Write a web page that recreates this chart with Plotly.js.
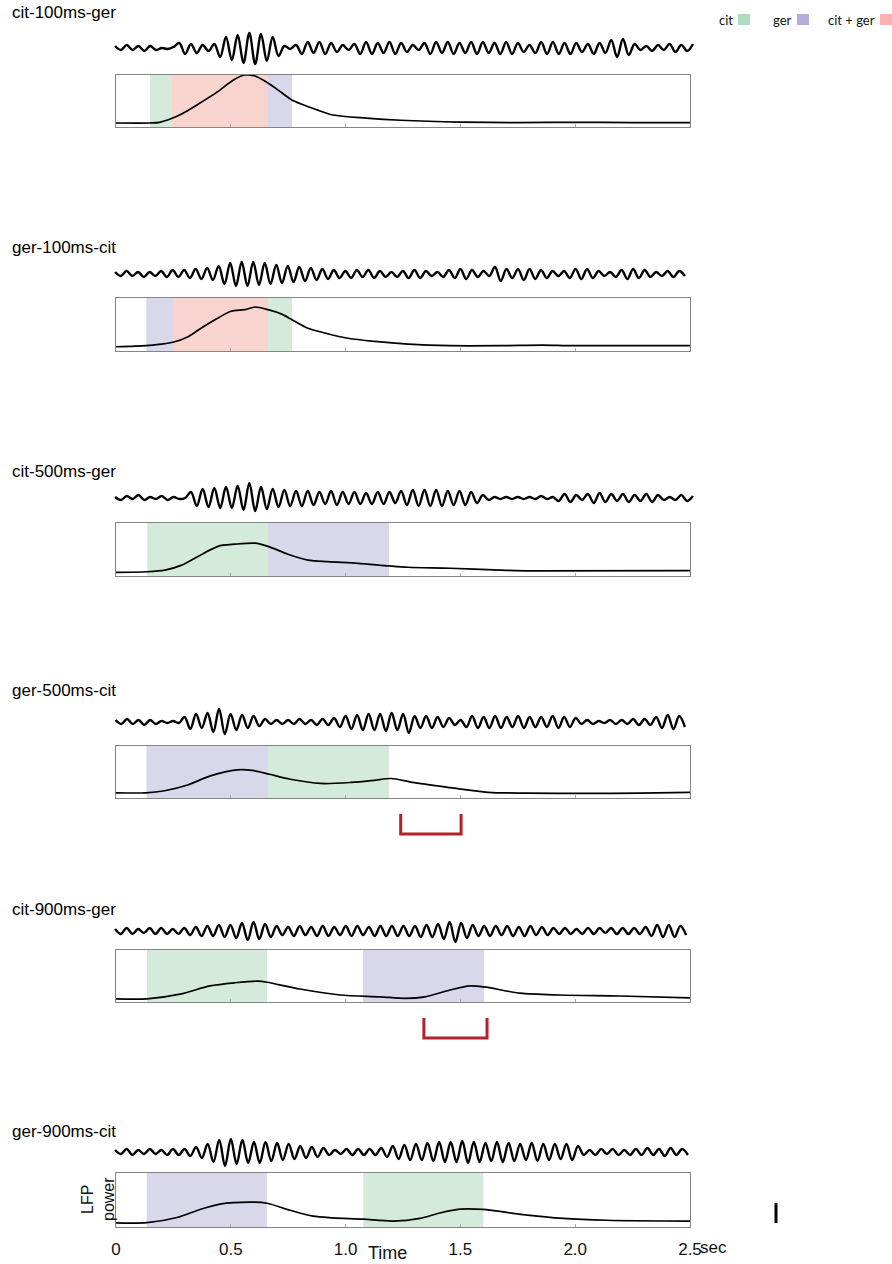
<!DOCTYPE html>
<html><head><meta charset="utf-8">
<script src="https://cdn.plot.ly/plotly-3.0.1.min.js"></script>
<style>html,body{margin:0;padding:0;background:#fff}</style>
</head><body><div id="chart" style="width:892px;height:1264px"></div>
<script>
// ---------------- DATA ----------------
const panelTitles = ['cit-100ms-ger','ger-100ms-cit','cit-500ms-ger','ger-500ms-cit','cit-900ms-ger','ger-900ms-cit'];
// stimulus intervals (sec)
const citOn  = [0.148, 0.248, 0.136, 0.662, 0.135, 1.077];
const citOff = [0.662, 0.767, 0.662, 1.190, 0.658, 1.600];
const gerOn  = [0.244, 0.132, 0.662, 0.133, 1.076, 0.134];
const gerOff = [0.767, 0.662, 1.189, 0.662, 1.603, 0.657];
// LFP power curves (fraction of box height)
const powT1 = [0,0.148,0.19,0.244,0.31,0.366,0.44,0.51,0.56,0.605,0.66,0.725,0.766,0.875,0.945,1.09,1.24,1.5,1.75,2.0,2.25,2.5];
const powV1 = [0.077,0.077,0.09,0.167,0.31,0.46,0.67,0.90,1.0,0.98,0.85,0.65,0.52,0.33,0.23,0.17,0.13,0.095,0.085,0.09,0.085,0.085];
const powT2 = [0,0.131,0.196,0.248,0.314,0.370,0.431,0.501,0.562,0.605,0.662,0.719,0.767,0.836,0.910,1.010,1.128,1.272,1.455,1.672,1.860,1.990,2.5];
const powV2 = [0.08,0.10,0.13,0.165,0.27,0.43,0.59,0.75,0.78,0.83,0.78,0.70,0.59,0.43,0.34,0.24,0.18,0.13,0.10,0.10,0.112,0.10,0.10];
const powT3 = [0,0.135,0.213,0.283,0.357,0.444,0.518,0.605,0.662,0.749,0.836,0.923,1.054,1.189,1.272,1.455,1.672,1.816,2.5];
const powV3 = [0.07,0.08,0.11,0.20,0.37,0.56,0.60,0.62,0.56,0.41,0.30,0.27,0.24,0.19,0.165,0.146,0.11,0.095,0.10];
const powT4 = [0,0.129,0.212,0.312,0.411,0.527,0.594,0.668,0.759,0.892,1.025,1.124,1.199,1.290,1.456,1.621,1.787,2.036,2.284,2.5];
const powV4 = [0.10,0.10,0.14,0.25,0.425,0.54,0.53,0.456,0.36,0.28,0.30,0.34,0.375,0.30,0.20,0.11,0.094,0.088,0.094,0.11];
const powT5 = [0,0.135,0.279,0.409,0.518,0.618,0.658,0.801,0.976,1.150,1.259,1.346,1.455,1.542,1.603,1.760,1.934,2.195,2.5];
const powV5 = [0.06,0.06,0.15,0.31,0.37,0.40,0.38,0.25,0.135,0.10,0.07,0.10,0.23,0.31,0.29,0.17,0.135,0.115,0.08];
const powT6 = [0,0.135,0.266,0.366,0.453,0.597,0.658,0.758,0.858,0.945,1.076,1.206,1.324,1.411,1.498,1.598,1.773,1.947,2.138,2.5];
const powV6 = [0.075,0.08,0.175,0.325,0.425,0.46,0.44,0.31,0.20,0.17,0.145,0.11,0.16,0.26,0.33,0.325,0.23,0.16,0.125,0.107];
// raw LFP traces: successive extrema (peak/trough)
const wave1 = [2,-2,3,-2,2,-3,2,-2, 0,-1,1, 5,-6,4,-5, 3,-3,4,
 -9,11,-12,13,-15,15,-16,14,-13,11,-8, 2,-1,3,
 -6,6,-5,6,-6,5,-4,3,-2,4,-6,6,-6,5,-5,6,-6,5,-4,3,-2,5,-6,6,-5,6,-6,5,-5,
 6,-6,6,-5,5,-6,6,-6,5,-4,3,-5,6,-6,6,-6,5,-6,5,-4,4,-6,5,-5,8,-9,9,-7,4,-2,2,-3,3,-2,4,-4,3,-3,4];
const wave2 = [2,-2,3,-2,2,-3,2,-2, 3,-3,4,-3,4,-4,5,-5,6,-6,
 8,-10,11,-12,12,-12,12,-11,11,-10,9,-9, 8,-8,7,-7,6,-6,5,-5,4,-4,
 3,-4,4,-3,4,-4,3,-3,2,-3, 3,-4,4,-4,3,-2,2,-3,4,-4, 5,-5,4,-3,3,-2,7,-7,5,-4,
 5,-6,5,-5,4,-4,3,-2,3,-4, 5,-5,5,-4,3,-2,2,-3,4,-5, 5,-4,4,-3,2,-2,3,-3,3,-2];
const wave3 = [1,-2,2,-1,3,-2,1,-1,2,-2,1,-1,0, 6,-8,9,-9,10,-10,11,-10,
 12,-12,15,-13,11,-11,9,-9, 8,-8,7,-8,7,-7,6,-6,7,-7,6,-6, 6,-6,5,-6,6,-6,6,-5,7,-7,
 8,-8,8,-8,8,-8,7,-7,7,-7,6,-5,3,-2, 1,-1,1,-1,1,-1,1,-1,2,-1,1,
 -3,4,-4,3,-2,4,-5,5,-4,4,-3,4,-4,3,-3,4,-4,3,-2,1,-2,3,-3,2];
const wave4 = [2,-2,3,-2,2,-3,2,-2,1, -1,1,-1, 5,-7,8,-6,9,-10,13,-12,8,-8, 7,-6,6,-4,3,-2,
 2,-2,2,-2,3,-2,2,-3,3,-3,4, -5,6,-7,7,-8,8,-8,8,-9,9,-8,8,-11,6,-6,6, -6,5,-5,4,-3,2,
 -5,6,-6,5,-6,6,-6,5,-5,6,-6,5,-5,5,-5,6,-6,5,-5,4, -2,2,-2,1,-1,2,-2,2,-2, 3,-3,3,-3,5,-6,7,-7,6,-5];
const wave5 = [2,-3,3,-3,2,-2,3,-3,3,-3,2,-3,3,-4,4, -5,5,-5,6,-6,6,-7,8,-9,9,-8,7,-6,5,
 -4,4,-5,5,-4,4,-5,5,-5,4,-4,5,-5,5,-4,4,-5,5,-5,5,-5,5,-5,5,-6,6,-6,
 7,-8,9,-11,8,-7,6,-5, 5,-5,5,-4,5,-5,4,-5,5,-4,4,-4,3,-3,
 3,-3,2,-3,3,-3,3,-2,3,-3,3,-3,3,-3, 4,-5,6,-6,6,-6,5,-4];
const wave6 = [2,-2,3,-3,2,-2,3,-2,2,-3,3,-3,3,-4,5,
 -6,8,-10,12,-14,13,-12,12,-11,10,-11,10,-9,9,-8,8,-7,6,
 -6,5,-5,4,-3,2,-2,3,-3,3,-3,3,-3,4, -5,6,-7,7,-8,8,-8,9,-9,
 10,-10,10,-10,11,-11,10,-10,9,-9,10,-10,9,-9,8,-8,9,-9, 8,-8,8,-7,8,-8,6,-3,
 2,-3,3,-2,3,-3,2,-3,3,-3,4,-3,3,-4,4,-3,3,-3];
const waveStart = [-0.004,-0.004,-0.004,-0.002,-0.004,-0.004];
const waveEnd   = [2.513, 2.478, 2.513, 2.478, 2.483, 2.491];
const tickVals = [0,0.5,1,1.5,2,2.5];
const tickText = ['0','0.5','1.0','1.5','2.0','2.5'];
const legendLabels = ['cit','ger','cit + ger'];
const bracketPanel = [3,4];
const bracketStart = [1.240,1.341];
const bracketEnd   = [1.503,1.616];

// ---------------- LAYOUT / STYLE ----------------
const W=892, H=1264;
const PX=(H0)=>1-H0/H;
const boxL=116, boxR=690, unit=(boxR-boxL)/2.5;
const boxTop=[75,298,523,746,950,1173], boxBot=[127,351,576,798,1002,1227];
const waveC=[48,274,498,722,931,1152], waveHalf=22;
const titleY=[12,248,471,690,910,1131];
const COL={cit:'#d4eadb', ger:'#d9d8ea', both:'#f9d4cf'};
const LEG=['#acdcbc','#b3aedb','#fcb1b1'];
const FONT='Liberation Sans, Arial, sans-serif';
const powT=[powT1,powT2,powT3,powT4,powT5,powT6];
const powV=[powV1,powV2,powV3,powV4,powV5,powV6];
const waves=[wave1,wave2,wave3,wave4,wave5,wave6];

const traces=[], layout={width:W,height:H,margin:{l:0,r:0,t:0,b:0},paper_bgcolor:'#fff',plot_bgcolor:'rgba(0,0,0,0)',showlegend:false,shapes:[],annotations:[]};
const wr=[-0.05,2.55];
for(let k=0;k<6;k++){
  const n=k+1, ax=n===1?'':n, wn=k+7;
  traces.push({x:powT[k],y:powV[k],xaxis:'x'+ax,yaxis:'y'+ax,mode:'lines',line:{color:'#000',width:1.7,shape:'spline',smoothing:0.8},hoverinfo:'skip'});
  const w=waves[k], m=w.length;
  const xs=w.map((_,i)=>waveStart[k]+i*(waveEnd[k]-waveStart[k])/(m-1));
  traces.push({x:xs,y:w,xaxis:'x'+wn,yaxis:'y'+wn,mode:'lines',line:{color:'#000',width:2.4,shape:'spline',smoothing:1},hoverinfo:'skip'});
  layout['xaxis'+ax]={domain:[boxL/W,boxR/W],range:[0,2.5],anchor:'y'+ax,showline:true,mirror:true,linecolor:'#858585',linewidth:1.3,
    showgrid:false,zeroline:false,ticks:'inside',ticklen:3,tickcolor:'#aaa',tickvals:tickVals,ticktext:tickText,
    showticklabels:k===5,tickfont:{family:FONT,size:17,color:'#111'},ticklabelstandoff:6,fixedrange:true};
  layout['yaxis'+ax]={domain:[PX(boxBot[k]),PX(boxTop[k])],range:[0,1],anchor:'x'+ax,showline:true,mirror:true,linecolor:'#858585',linewidth:1.3,
    showgrid:false,zeroline:false,showticklabels:false,ticks:'',fixedrange:true};
  layout['xaxis'+wn]={domain:[(boxL+wr[0]*unit)/W,(boxL+wr[1]*unit)/W],range:wr,anchor:'y'+wn,visible:false,fixedrange:true};
  layout['yaxis'+wn]={domain:[PX(waveC[k]+waveHalf),PX(waveC[k]-waveHalf)],range:[-waveHalf,waveHalf],anchor:'x'+wn,visible:false,fixedrange:true};
  // stimulus shading
  const yr='y'+ax+' domain';
  layout.shapes.push({type:'rect',xref:'x'+ax,yref:yr,x0:citOn[k],x1:citOff[k],y0:0,y1:1,fillcolor:COL.cit,line:{width:0},layer:'below'});
  layout.shapes.push({type:'rect',xref:'x'+ax,yref:yr,x0:gerOn[k],x1:gerOff[k],y0:0,y1:1,fillcolor:COL.ger,line:{width:0},layer:'below'});
  const o0=Math.max(citOn[k],gerOn[k]), o1=Math.min(citOff[k],gerOff[k]);
  if(o1>o0) layout.shapes.push({type:'rect',xref:'x'+ax,yref:yr,x0:o0,x1:o1,y0:0,y1:1,fillcolor:COL.both,line:{width:0},layer:'below'});
  layout.annotations.push({text:panelTitles[k],xref:'paper',yref:'paper',x:10/W,y:PX(titleY[k]),xanchor:'left',yanchor:'middle',showarrow:false,font:{family:FONT,size:17,color:'#000'}});
}
// brackets
bracketPanel.forEach((p,i)=>{
  const ax='x'+(p+1), yt=PX(boxBot[p]+16), yb=PX(boxBot[p]+36);
  layout.shapes.push({type:'path',xref:ax,yref:'paper',path:`M ${bracketStart[i]},${yt} L ${bracketStart[i]},${yb} L ${bracketEnd[i]},${yb} L ${bracketEnd[i]},${yt}`,line:{color:'#b3212b',width:3}});
});
// legend
const legTextRight=[735,794,877], legSq=[738,797,880];
legendLabels.forEach((t,i)=>{
  layout.annotations.push({text:t,xref:'paper',yref:'paper',x:legTextRight[i]/W,y:PX(20),xanchor:'right',yanchor:'middle',showarrow:false,font:{family:'Lato, Open Sans, sans-serif',size:13,color:'#111'}});
  layout.shapes.push({type:'rect',xref:'paper',yref:'paper',x0:legSq[i]/W,x1:(legSq[i]+12)/W,y0:PX(25),y1:PX(14),fillcolor:LEG[i],line:{width:0}});
});
// axis texts
layout.annotations.push({text:'sec',xref:'paper',yref:'paper',x:698/W,y:PX(1247),xanchor:'left',yanchor:'middle',showarrow:false,font:{family:FONT,size:17,color:'#111'}});
layout.annotations.push({text:'Time',xref:'paper',yref:'paper',x:387/W,y:PX(1253),xanchor:'center',yanchor:'middle',showarrow:false,font:{family:FONT,size:18,color:'#111'}});
layout.annotations.push({text:'LFP<br>power',xref:'paper',yref:'paper',x:98/W,y:PX(1199),xanchor:'center',yanchor:'middle',textangle:-90,showarrow:false,font:{family:FONT,size:16,color:'#111'}});
// scale bar
layout.shapes.push({type:'line',xref:'paper',yref:'paper',x0:776/W,x1:776/W,y0:PX(1203),y1:PX(1223),line:{color:'#000',width:3}});

Plotly.newPlot('chart',traces,layout,{staticPlot:true,displayModeBar:false});
</script></body></html>
